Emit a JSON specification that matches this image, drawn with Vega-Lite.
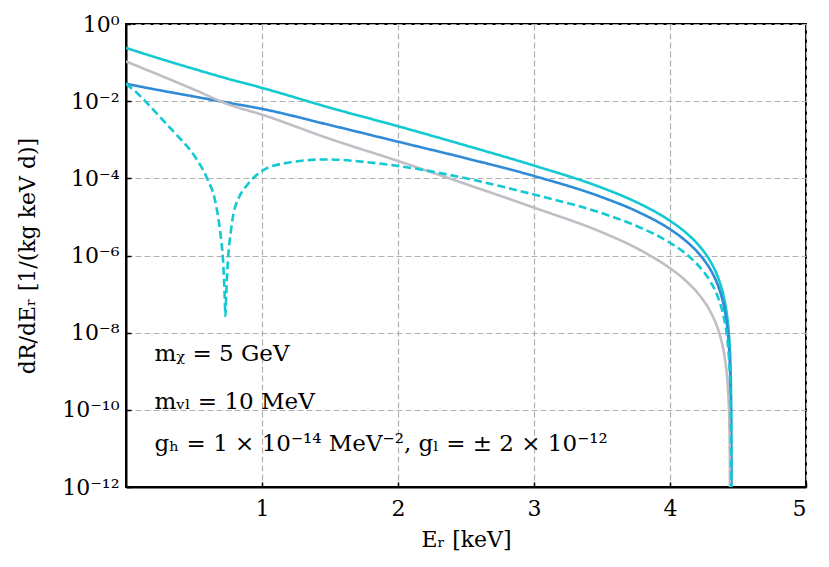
{
  "$schema": "https://vega.github.io/schema/vega-lite/v6.json",
  "width": 680,
  "height": 463,
  "autosize": "none",
  "padding": {"left": 126, "top": 24, "right": 23, "bottom": 80},
  "background": "#ffffff",
  "view": {"stroke": "#000000", "strokeWidth": 2, "fill": "#ffffff"},
  "config": {
    "font": "DejaVu Serif",
    "axis": {
      "labelFont": "DejaVu Serif",
      "titleFont": "DejaVu Serif",
      "labelFontSize": 22,
      "titleFontSize": 22,
      "labelColor": "#000000",
      "titleColor": "#000000",
      "titleFontWeight": "normal",
      "domain": true,
      "domainColor": "#000000",
      "domainWidth": 2,
      "tickColor": "#000000",
      "tickWidth": 1.5,
      "tickSize": -5,
      "gridColor": "#b0b0b0",
      "gridDash": [6, 3],
      "gridWidth": 1.2
    }
  },
  "datasets": {
    "curves": [
      {"E": 0.0, "rate": 0.240, "series": "heavy+light (+)"},
      {"E": 0.25, "rate": 0.126, "series": "heavy+light (+)"},
      {"E": 0.5, "rate": 0.0684, "series": "heavy+light (+)"},
      {"E": 0.75, "rate": 0.0380, "series": "heavy+light (+)"},
      {"E": 1.0, "rate": 0.0221, "series": "heavy+light (+)"},
      {"E": 1.5, "rate": 0.00676, "series": "heavy+light (+)"},
      {"E": 2.0, "rate": 0.00224, "series": "heavy+light (+)"},
      {"E": 2.5, "rate": 7.08e-4, "series": "heavy+light (+)"},
      {"E": 3.0, "rate": 2.14e-4, "series": "heavy+light (+)"},
      {"E": 3.5, "rate": 5.69e-5, "series": "heavy+light (+)"},
      {"E": 3.75, "rate": 2.44e-5, "series": "heavy+light (+)"},
      {"E": 4.0, "rate": 7.94e-6, "series": "heavy+light (+)"},
      {"E": 4.1, "rate": 4.38e-6, "series": "heavy+light (+)"},
      {"E": 4.2, "rate": 2.04e-6, "series": "heavy+light (+)"},
      {"E": 4.25, "rate": 1.25e-6, "series": "heavy+light (+)"},
      {"E": 4.3, "rate": 6.75e-7, "series": "heavy+light (+)"},
      {"E": 4.35, "rate": 2.89e-7, "series": "heavy+light (+)"},
      {"E": 4.38, "rate": 1.40e-7, "series": "heavy+light (+)"},
      {"E": 4.4, "rate": 7.18e-8, "series": "heavy+light (+)"},
      {"E": 4.42, "rate": 2.66e-8, "series": "heavy+light (+)"},
      {"E": 4.43, "rate": 1.25e-8, "series": "heavy+light (+)"},
      {"E": 4.44, "rate": 3.67e-9, "series": "heavy+light (+)"},
      {"E": 4.445, "rate": 1.26e-9, "series": "heavy+light (+)"},
      {"E": 4.45, "rate": 1.02e-10, "series": "heavy+light (+)"},
      {"E": 4.452, "rate": 1e-13, "series": "heavy+light (+)"},

      {"E": 0.0, "rate": 0.0282, "series": "heavy"},
      {"E": 0.25, "rate": 0.0191, "series": "heavy"},
      {"E": 0.5, "rate": 0.0132, "series": "heavy"},
      {"E": 0.75, "rate": 0.00912, "series": "heavy"},
      {"E": 1.0, "rate": 0.00631, "series": "heavy"},
      {"E": 1.5, "rate": 0.00240, "series": "heavy"},
      {"E": 2.0, "rate": 8.91e-4, "series": "heavy"},
      {"E": 2.5, "rate": 3.31e-4, "series": "heavy"},
      {"E": 3.0, "rate": 1.15e-4, "series": "heavy"},
      {"E": 3.5, "rate": 3.24e-5, "series": "heavy"},
      {"E": 3.75, "rate": 1.43e-5, "series": "heavy"},
      {"E": 4.0, "rate": 4.79e-6, "series": "heavy"},
      {"E": 4.1, "rate": 2.67e-6, "series": "heavy"},
      {"E": 4.2, "rate": 1.25e-6, "series": "heavy"},
      {"E": 4.25, "rate": 7.67e-7, "series": "heavy"},
      {"E": 4.3, "rate": 4.14e-7, "series": "heavy"},
      {"E": 4.35, "rate": 1.77e-7, "series": "heavy"},
      {"E": 4.38, "rate": 8.43e-8, "series": "heavy"},
      {"E": 4.4, "rate": 4.24e-8, "series": "heavy"},
      {"E": 4.42, "rate": 1.50e-8, "series": "heavy"},
      {"E": 4.43, "rate": 6.6e-9, "series": "heavy"},
      {"E": 4.44, "rate": 1.64e-9, "series": "heavy"},
      {"E": 4.445, "rate": 4.07e-10, "series": "heavy"},
      {"E": 4.448, "rate": 6.5e-11, "series": "heavy"},
      {"E": 4.45, "rate": 1e-13, "series": "heavy"},

      {"E": 0.0, "rate": 0.107, "series": "light"},
      {"E": 0.25, "rate": 0.0468, "series": "light"},
      {"E": 0.5, "rate": 0.0200, "series": "light"},
      {"E": 0.75, "rate": 0.00832, "series": "light"},
      {"E": 1.0, "rate": 0.00447, "series": "light"},
      {"E": 1.5, "rate": 0.00105, "series": "light"},
      {"E": 2.0, "rate": 2.82e-4, "series": "light"},
      {"E": 2.5, "rate": 7.08e-5, "series": "light"},
      {"E": 3.0, "rate": 1.74e-5, "series": "light"},
      {"E": 3.5, "rate": 3.99e-6, "series": "light"},
      {"E": 3.75, "rate": 1.58e-6, "series": "light"},
      {"E": 4.0, "rate": 4.68e-7, "series": "light"},
      {"E": 4.1, "rate": 2.49e-7, "series": "light"},
      {"E": 4.2, "rate": 1.10e-7, "series": "light"},
      {"E": 4.25, "rate": 6.53e-8, "series": "light"},
      {"E": 4.3, "rate": 3.35e-8, "series": "light"},
      {"E": 4.35, "rate": 1.32e-8, "series": "light"},
      {"E": 4.38, "rate": 5.79e-9, "series": "light"},
      {"E": 4.4, "rate": 2.59e-9, "series": "light"},
      {"E": 4.42, "rate": 6.93e-10, "series": "light"},
      {"E": 4.43, "rate": 2.04e-10, "series": "light"},
      {"E": 4.435, "rate": 6.9e-11, "series": "light"},
      {"E": 4.44, "rate": 5.6e-12, "series": "light"},
      {"E": 4.442, "rate": 1e-13, "series": "light"},

      {"E": 0.0, "rate": 0.0282, "series": "heavy+light (-)"},
      {"E": 0.1, "rate": 0.0141, "series": "heavy+light (-)"},
      {"E": 0.2, "rate": 0.00603, "series": "heavy+light (-)"},
      {"E": 0.3, "rate": 0.00251, "series": "heavy+light (-)"},
      {"E": 0.4, "rate": 0.00105, "series": "heavy+light (-)"},
      {"E": 0.5, "rate": 3.98e-4, "series": "heavy+light (-)"},
      {"E": 0.6, "rate": 9.33e-5, "series": "heavy+light (-)"},
      {"E": 0.65, "rate": 3.16e-5, "series": "heavy+light (-)"},
      {"E": 0.68, "rate": 8.71e-6, "series": "heavy+light (-)"},
      {"E": 0.7, "rate": 2.51e-6, "series": "heavy+light (-)"},
      {"E": 0.713, "rate": 7.94e-7, "series": "heavy+light (-)"},
      {"E": 0.725, "rate": 1e-7, "series": "heavy+light (-)"},
      {"E": 0.731, "rate": 2.69e-8, "series": "heavy+light (-)"},
      {"E": 0.737, "rate": 1e-7, "series": "heavy+light (-)"},
      {"E": 0.75, "rate": 7.94e-7, "series": "heavy+light (-)"},
      {"E": 0.77, "rate": 3.98e-6, "series": "heavy+light (-)"},
      {"E": 0.787, "rate": 1.05e-5, "series": "heavy+light (-)"},
      {"E": 0.83, "rate": 3.16e-5, "series": "heavy+light (-)"},
      {"E": 0.885, "rate": 6.31e-5, "series": "heavy+light (-)"},
      {"E": 1.0, "rate": 1.55e-4, "series": "heavy+light (-)"},
      {"E": 1.18, "rate": 2.51e-4, "series": "heavy+light (-)"},
      {"E": 1.47, "rate": 3.09e-4, "series": "heavy+light (-)"},
      {"E": 1.82, "rate": 2.51e-4, "series": "heavy+light (-)"},
      {"E": 2.0, "rate": 2.09e-4, "series": "heavy+light (-)"},
      {"E": 2.5, "rate": 1e-4, "series": "heavy+light (-)"},
      {"E": 3.0, "rate": 3.80e-5, "series": "heavy+light (-)"},
      {"E": 3.5, "rate": 1.25e-5, "series": "heavy+light (-)"},
      {"E": 3.75, "rate": 5.92e-6, "series": "heavy+light (-)"},
      {"E": 4.0, "rate": 2.14e-6, "series": "heavy+light (-)"},
      {"E": 4.1, "rate": 1.23e-6, "series": "heavy+light (-)"},
      {"E": 4.2, "rate": 5.93e-7, "series": "heavy+light (-)"},
      {"E": 4.25, "rate": 3.70e-7, "series": "heavy+light (-)"},
      {"E": 4.3, "rate": 2.02e-7, "series": "heavy+light (-)"},
      {"E": 4.35, "rate": 8.75e-8, "series": "heavy+light (-)"},
      {"E": 4.38, "rate": 4.22e-8, "series": "heavy+light (-)"},
      {"E": 4.4, "rate": 2.13e-8, "series": "heavy+light (-)"},
      {"E": 4.42, "rate": 7.59e-9, "series": "heavy+light (-)"},
      {"E": 4.43, "rate": 3.36e-9, "series": "heavy+light (-)"},
      {"E": 4.44, "rate": 8.34e-10, "series": "heavy+light (-)"},
      {"E": 4.445, "rate": 2.09e-10, "series": "heavy+light (-)"},
      {"E": 4.448, "rate": 3.3e-11, "series": "heavy+light (-)"},
      {"E": 4.45, "rate": 1e-13, "series": "heavy+light (-)"}
    ],
    "notes": [
      {"E": 0.21, "rate": 1.8e-9, "label": "mᵪ = 5 GeV"},
      {"E": 0.21, "rate": 1.05e-10, "label": "mᵥₗ = 10 MeV"},
      {"E": 0.21, "rate": 8.5e-12, "label": "gₕ = 1 × 10⁻¹⁴ MeV⁻², gₗ = ± 2 × 10⁻¹²"}
    ]
  },
  "layer": [
    {
      "data": {"name": "curves"},
      "mark": {"type": "line", "strokeWidth": 2.6, "clip": true, "interpolate": "monotone"},
      "encoding": {
        "x": {
          "field": "E",
          "type": "quantitative",
          "scale": {"domain": [0, 5], "nice": false, "zero": false},
          "axis": {
            "title": "Eᵣ [keV]",
            "values": [1, 2, 3, 4, 5],
            "format": "d",
            "labelPadding": 16,
            "titlePadding": 10,
            "grid": true
          }
        },
        "y": {
          "field": "rate",
          "type": "quantitative",
          "scale": {"type": "log", "domain": [1e-12, 1], "nice": false},
          "axis": {
            "title": "dR/dEᵣ [1/(kg keV d)]",
            "values": [1, 0.01, 1e-4, 1e-6, 1e-8, 1e-10, 1e-12],
            "labelExpr": "'10' + ['⁰','⁻²','⁻⁴','⁻⁶','⁻⁸','⁻¹⁰','⁻¹²'][round(-log(datum.value) / LN10 / 2)]",
            "labelPadding": 12,
            "titlePadding": 22,
            "grid": true
          }
        },
        "color": {
          "field": "series",
          "type": "nominal",
          "scale": {
            "domain": ["heavy+light (+)", "heavy", "light", "heavy+light (-)"],
            "range": ["#12c9d1", "#2f8bd7", "#c1bdc4", "#12c9d1"]
          },
          "legend": null
        },
        "strokeDash": {
          "field": "series",
          "type": "nominal",
          "scale": {
            "domain": ["heavy+light (+)", "heavy", "light", "heavy+light (-)"],
            "range": [[1, 0], [1, 0], [1, 0], [8, 4]]
          },
          "legend": null
        },
        "order": {"field": "E", "type": "quantitative"}
      }
    },
    {
      "data": {"name": "notes"},
      "mark": {"type": "text", "align": "left", "baseline": "alphabetic", "fontSize": 23, "font": "DejaVu Serif", "color": "#000000"},
      "encoding": {
        "x": {"field": "E", "type": "quantitative"},
        "y": {"field": "rate", "type": "quantitative"},
        "text": {"field": "label"}
      }
    }
  ]
}
